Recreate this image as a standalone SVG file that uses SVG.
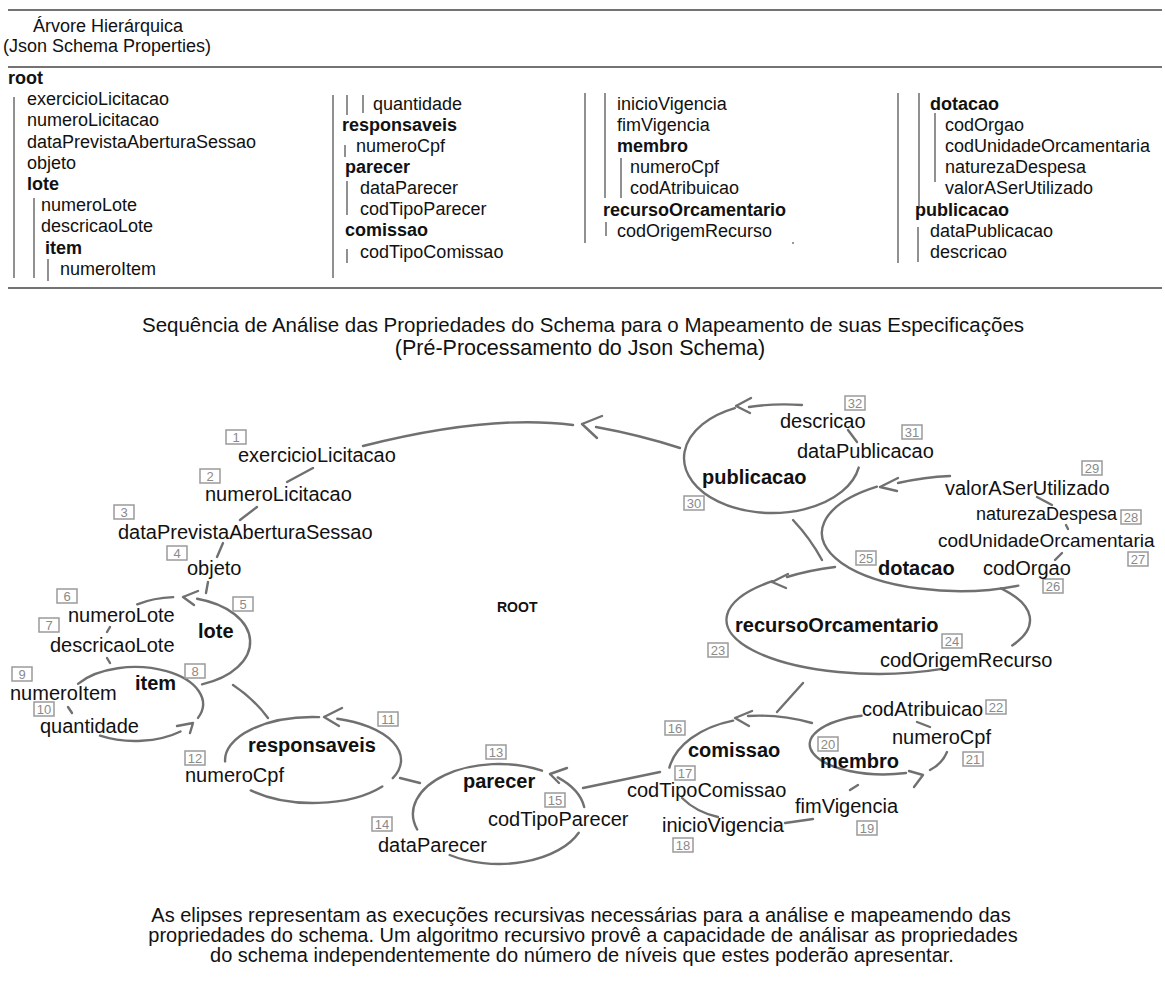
<svg xmlns="http://www.w3.org/2000/svg" width="1165" height="981" viewBox="0 0 1165 981">
<style>
  text { font-family: "Liberation Sans", Arial, sans-serif; fill: #111; }
  .tr { font-size: 18px; }
  .b { font-weight: bold; }
  .d { font-size: 20px; }
  .s19 { font-size: 19px; }
  .s18 { font-size: 18px; }
  .cap { font-size: 20px; text-anchor: middle; }
  .ttl { font-size: 20.5px; text-anchor: middle; }
  .ttl2 { font-size: 21.5px; text-anchor: middle; }
  .rule { stroke: #444; stroke-width: 1.5; }
  .tl { stroke: #555; stroke-width: 1.3; }
  .c { fill: none; stroke: #707070; stroke-width: 2.4; stroke-linecap: round; stroke-linejoin: round; }
  .nb { fill: #fff; stroke: #9a9a9a; stroke-width: 1.5; }
  .nt { font-size: 13px; fill: #8a8a8a; text-anchor: middle; }
  .root { font-size: 14px; font-weight: bold; }
</style>
<rect width="1165" height="981" fill="#fff"/>

<!-- hierarchical tree -->
<g id="tree">
  <line class="rule" x1="8" y1="10" x2="1162" y2="10"/>
  <line class="rule" x1="8" y1="67" x2="1162" y2="67"/>
  <line class="rule" x1="8" y1="288" x2="1162" y2="288"/>
  <text class="tr" x="33" y="32">Árvore Hierárquica</text>
  <text class="tr" x="3" y="52">(Json Schema Properties)</text>

  <g id="tree-col1">
    <text class="tr b" x="8" y="84">root</text>
    <text class="tr" x="27" y="105">exercicioLicitacao</text>
    <text class="tr" x="27" y="126">numeroLicitacao</text>
    <text class="tr" x="27" y="148">dataPrevistaAberturaSessao</text>
    <text class="tr" x="27" y="169">objeto</text>
    <text class="tr b" x="27" y="190">lote</text>
    <text class="tr" x="41" y="211">numeroLote</text>
    <text class="tr" x="41" y="232">descricaoLote</text>
    <text class="tr b" x="45" y="254">item</text>
    <text class="tr" x="60" y="275">numeroItem</text>
    <line class="tl" x1="14" y1="97" x2="14" y2="278"/>
    <line class="tl" x1="34" y1="198" x2="34" y2="278"/>
    <line class="tl" x1="48" y1="259" x2="48" y2="281"/>
  </g>

  <g id="tree-col2">
    <line class="tl" x1="333" y1="95" x2="333" y2="278"/>
    <line class="tl" x1="347" y1="95" x2="347" y2="115"/>
    <line class="tl" x1="363" y1="95" x2="363" y2="113"/>
    <text class="tr" x="373" y="110">quantidade</text>
    <text class="tr b" x="342" y="131">responsaveis</text>
    <line class="tl" x1="345" y1="145" x2="345" y2="157"/>
    <text class="tr" x="356" y="152">numeroCpf</text>
    <text class="tr b" x="345" y="173">parecer</text>
    <line class="tl" x1="347" y1="181" x2="347" y2="215"/>
    <text class="tr" x="360" y="194">dataParecer</text>
    <text class="tr" x="360" y="215">codTipoParecer</text>
    <text class="tr b" x="345" y="236">comissao</text>
    <line class="tl" x1="347" y1="249" x2="347" y2="263"/>
    <text class="tr" x="360" y="258">codTipoComissao</text>
  </g>

  <g id="tree-col3">
    <line class="tl" x1="585" y1="93" x2="585" y2="243"/>
    <line class="tl" x1="605" y1="93" x2="605" y2="198"/>
    <line class="tl" x1="621" y1="158" x2="621" y2="198"/>
    <text class="tr" x="617" y="110">inicioVigencia</text>
    <text class="tr" x="617" y="131">fimVigencia</text>
    <text class="tr b" x="617" y="152">membro</text>
    <text class="tr" x="630" y="173">numeroCpf</text>
    <text class="tr" x="630" y="194">codAtribuicao</text>
    <text class="tr b" x="603" y="216">recursoOrcamentario</text>
    <line class="tl" x1="606" y1="222" x2="606" y2="236"/>
    <text class="tr" x="617" y="237">codOrigemRecurso</text>
    <rect x="792" y="242" width="2" height="2" fill="#999"/>
  </g>

  <g id="tree-col4">
    <line class="tl" x1="898" y1="93" x2="898" y2="263"/>
    <line class="tl" x1="919" y1="93" x2="919" y2="208"/>
    <line class="tl" x1="935" y1="113" x2="935" y2="182"/>
    <line class="tl" x1="918" y1="227" x2="918" y2="262"/>
    <text class="tr b" x="930" y="110">dotacao</text>
    <text class="tr" x="945" y="131">codOrgao</text>
    <text class="tr" x="945" y="152">codUnidadeOrcamentaria</text>
    <text class="tr" x="945" y="173">naturezaDespesa</text>
    <text class="tr" x="945" y="194">valorASerUtilizado</text>
    <text class="tr b" x="915" y="216">publicacao</text>
    <text class="tr" x="930" y="237">dataPublicacao</text>
    <text class="tr" x="930" y="258">descricao</text>
  </g>
</g>

<text class="ttl" x="583" y="332">Sequência de Análise das Propriedades do Schema para o Mapeamento de suas Especificações</text>
<text class="ttl2" x="580" y="355">(Pré-Processamento do Json Schema)</text>

<!-- recursion loops and their links -->
<g id="connectors">
  <!-- root loop -->
  <path class="c" d="M573,425 Q490,414 363,446"/>
  <path class="c" d="M582,424 L602,416 M582,424 L597,438"/>
  <path class="c" d="M596,427 Q640,435 680,448"/>
  <path class="c" d="M313,468 L287,482"/>
  <path class="c" d="M257,507 L240,520"/>
  <path class="c" d="M223,543 L217,557"/>
  <path class="c" d="M208,582 L206,593"/>
  <path class="c" d="M233,685 Q254,699 268,718"/>
  <path class="c" d="M400,778 L420,783"/>
  <path class="c" d="M583,788 L660,772"/>
  <path class="c" d="M803,683 L777,712"/>
  <path class="c" d="M793,520 Q810,538 822,560"/>

  <!-- publicacao -->
  <path class="c" d="M734.8,408.2 A88,55 0 1,0 858.7,467.6"/>
  <path class="c" d="M848,430 L857,442"/>
  <path class="c" d="M749,407 Q775,403 802,405"/>
  <path class="c" d="M736,406 L751,398 M736,406 L750,413"/>

  <!-- dotacao -->
  <path class="c" d="M876.9,486.7 A138,58 0 0,0 1018.3,585.6"/>
  <path class="c" d="M898,483 Q925,477 950,476"/>
  <path class="c" d="M880,487 L898,478 M880,487 L897,491"/>
  <path class="c" d="M1037,497 L1052,505"/>
  <path class="c" d="M1066,525 L1068,529"/>
  <path class="c" d="M1062,553 L1055,560"/>

  <!-- recursoOrcamentario -->
  <path class="c" d="M772.4,581.2 A152,54 0 0,0 942.2,668.9"/>
  <path class="c" d="M1001,588.3 A152,54 0 0,1 1012.2,645.4"/>
  <path class="c" d="M772,582 L788,574 M772,582 L786,588"/>
  <path class="c" d="M787,577 Q810,570 835,567"/>

  <!-- comissao -->
  <path class="c" d="M733.1,720.6 A92,60 0 0,0 669.4,767.6"/>
  <path class="c" d="M735,718 L752,711 M735,718 L749,726"/>
  <path class="c" d="M748,716 Q780,714 812,723"/>
  <path class="c" d="M682,798 Q696,812 718,817"/>
  <path class="c" d="M785,823 L813,819"/>
  <path class="c" d="M850,790 L858,785"/>

  <!-- membro -->
  <path class="c" d="M861.6,715.7 A74,30 0 0,0 906,773"/>
  <path class="c" d="M923,775 L909,771 M923,775 L914,787"/>
  <path class="c" d="M930,770 Q942,764 947,752"/>
  <path class="c" d="M917,722 L930,727"/>

  <!-- parecer -->
  <path class="c" d="M417.2,829.5 A86,50 0 0,1 542,770.7"/>
  <path class="c" d="M557.7,777.4 A86,50 0 0,1 584.2,807"/>
  <path class="c" d="M578.7,832.7 A86,50 0 0,1 449.7,855"/>
  <path class="c" d="M550,774 L567,768 M550,774 L559,783"/>

  <!-- responsaveis -->
  <path class="c" d="M337.3,718.7 A88,43 0 0,1 392.8,778.2"/>
  <path class="c" d="M382.3,786.5 A88,43 0 0,1 250.8,790.4"/>
  <path class="c" d="M225.1,761.5 A88,43 0 0,1 319.1,717.1"/>
  <path class="c" d="M324,717 L342,708 M324,717 L339,726"/>

  <!-- lote -->
  <path class="c" d="M197.1,598.7 A73,45 0 0,1 202,684.3"/>
  <path class="c" d="M137.2,604.3 A73,45 0 0,1 173.2,597.1"/>
  <path class="c" d="M183,597 L198,591 M183,597 L194,605"/>
  <path class="c" d="M110,627 L107,632"/>
  <path class="c" d="M107,658 L110,663"/>

  <!-- item -->
  <path class="c" d="M78,683.8 A68,37 0 0,1 198,717.9"/>
  <path class="c" d="M100,735.7 A68,37 0 0,0 180.5,731.5"/>
  <path class="c" d="M68,707 L72,713"/>
  <path class="c" d="M193,723 L177,726 M193,723 L190,733"/>
</g>

<g id="node-root"><text class="root" x="497" y="612">ROOT</text></g>

<g id="node-exercicioLicitacao"><rect class="nb" x="226" y="430" width="20" height="14"/><text class="nt" x="236" y="442">1</text><text class="d" x="238" y="462">exercicioLicitacao</text></g>
<g id="node-numeroLicitacao"><rect class="nb" x="200" y="469" width="20" height="14"/><text class="nt" x="210" y="481">2</text><text class="d" x="205" y="501">numeroLicitacao</text></g>
<g id="node-dataPrevistaAberturaSessao"><rect class="nb" x="114" y="505" width="20" height="14"/><text class="nt" x="124" y="517">3</text><text class="d" x="118" y="539">dataPrevistaAberturaSessao</text></g>
<g id="node-objeto"><rect class="nb" x="167" y="546" width="20" height="14"/><text class="nt" x="177" y="558">4</text><text class="d" x="187" y="575">objeto</text></g>
<g id="node-lote"><rect class="nb" x="233" y="597" width="20" height="14"/><text class="nt" x="243" y="609">5</text><text class="d b" x="198" y="638">lote</text></g>
<g id="node-numeroLote"><rect class="nb" x="57" y="589" width="20" height="14"/><text class="nt" x="67" y="601">6</text><text class="d" x="68" y="622">numeroLote</text></g>
<g id="node-descricaoLote"><rect class="nb" x="39" y="618" width="20" height="14"/><text class="nt" x="49" y="630">7</text><text class="d" x="50" y="652">descricaoLote</text></g>
<g id="node-item"><rect class="nb" x="185" y="664" width="20" height="14"/><text class="nt" x="195" y="676">8</text><text class="d b" x="135" y="690">item</text></g>
<g id="node-numeroItem"><rect class="nb" x="12" y="667" width="20" height="14"/><text class="nt" x="22" y="679">9</text><text class="d" x="10" y="700">numeroItem</text></g>
<g id="node-quantidade"><rect class="nb" x="34" y="702" width="20" height="14"/><text class="nt" x="44" y="714">10</text><text class="d" x="40" y="733">quantidade</text></g>
<g id="node-responsaveis"><rect class="nb" x="378" y="712" width="20" height="14"/><text class="nt" x="388" y="724">11</text><text class="d b" x="248" y="752">responsaveis</text></g>
<g id="node-numeroCpf-resp"><rect class="nb" x="185" y="751" width="20" height="14"/><text class="nt" x="195" y="763">12</text><text class="d" x="185" y="782">numeroCpf</text></g>
<g id="node-parecer"><rect class="nb" x="486" y="745" width="20" height="14"/><text class="nt" x="496" y="757">13</text><text class="d b" x="463" y="788">parecer</text></g>
<g id="node-dataParecer"><rect class="nb" x="372" y="817" width="20" height="14"/><text class="nt" x="382" y="829">14</text><text class="d" x="378" y="852">dataParecer</text></g>
<g id="node-codTipoParecer"><rect class="nb" x="545" y="793" width="20" height="14"/><text class="nt" x="555" y="805">15</text><text class="d" x="488" y="826">codTipoParecer</text></g>
<g id="node-comissao"><rect class="nb" x="665" y="721" width="20" height="14"/><text class="nt" x="675" y="733">16</text><text class="d b" x="688" y="757">comissao</text></g>
<g id="node-codTipoComissao"><rect class="nb" x="675" y="766" width="20" height="14"/><text class="nt" x="685" y="778">17</text><text class="d" x="627" y="797">codTipoComissao</text></g>
<g id="node-inicioVigencia"><rect class="nb" x="673" y="838" width="20" height="14"/><text class="nt" x="683" y="850">18</text><text class="d" x="662" y="832">inicioVigencia</text></g>
<g id="node-fimVigencia"><rect class="nb" x="857" y="821" width="20" height="14"/><text class="nt" x="867" y="833">19</text><text class="d" x="795" y="813">fimVigencia</text></g>
<g id="node-membro"><rect class="nb" x="818" y="737" width="20" height="14"/><text class="nt" x="828" y="749">20</text><text class="d b" x="820" y="768">membro</text></g>
<g id="node-numeroCpf-membro"><rect class="nb" x="963" y="752" width="20" height="14"/><text class="nt" x="973" y="764">21</text><text class="d" x="892" y="744">numeroCpf</text></g>
<g id="node-codAtribuicao"><rect class="nb" x="986" y="700" width="20" height="14"/><text class="nt" x="996" y="712">22</text><text class="d" x="862" y="716">codAtribuicao</text></g>
<g id="node-recursoOrcamentario"><rect class="nb" x="708" y="643" width="20" height="14"/><text class="nt" x="718" y="655">23</text><text class="d b" x="735" y="632">recursoOrcamentario</text></g>
<g id="node-codOrigemRecurso"><rect class="nb" x="942" y="634" width="20" height="14"/><text class="nt" x="952" y="646">24</text><text class="d" x="880" y="667">codOrigemRecurso</text></g>
<g id="node-dotacao"><rect class="nb" x="856" y="551" width="20" height="14"/><text class="nt" x="866" y="563">25</text><text class="d b" x="878" y="575">dotacao</text></g>
<g id="node-codOrgao"><rect class="nb" x="1043" y="579" width="20" height="14"/><text class="nt" x="1053" y="591">26</text><text class="d" x="983" y="575">codOrgao</text></g>
<g id="node-codUnidadeOrcamentaria"><rect class="nb" x="1128" y="552" width="20" height="14"/><text class="nt" x="1138" y="564">27</text><text class="s19" x="938" y="547">codUnidadeOrcamentaria</text></g>
<g id="node-naturezaDespesa"><rect class="nb" x="1121" y="510" width="20" height="14"/><text class="nt" x="1131" y="522">28</text><text class="s18" x="976" y="520">naturezaDespesa</text></g>
<g id="node-valorASerUtilizado"><rect class="nb" x="1082" y="461" width="20" height="14"/><text class="nt" x="1092" y="473">29</text><text class="d" x="945" y="495">valorASerUtilizado</text></g>
<g id="node-publicacao"><rect class="nb" x="684" y="496" width="20" height="14"/><text class="nt" x="694" y="508">30</text><text class="d b" x="702" y="484">publicacao</text></g>
<g id="node-dataPublicacao"><rect class="nb" x="902" y="425" width="20" height="14"/><text class="nt" x="912" y="437">31</text><text class="d" x="797" y="458">dataPublicacao</text></g>
<g id="node-descricao"><rect class="nb" x="845" y="396" width="20" height="14"/><text class="nt" x="855" y="408">32</text><text class="d" x="780" y="428">descricao</text></g>

<g id="caption">
  <text class="cap" x="581" y="922">As elipses representam as execuções recursivas necessárias para a análise e mapeamendo das</text>
  <text class="cap" x="583" y="942">propriedades do schema. Um algoritmo recursivo provê a capacidade de análisar as propriedades</text>
  <text class="cap" x="582" y="962">do schema independentemente do número de níveis que estes poderão apresentar.</text>
</g>
</svg>
